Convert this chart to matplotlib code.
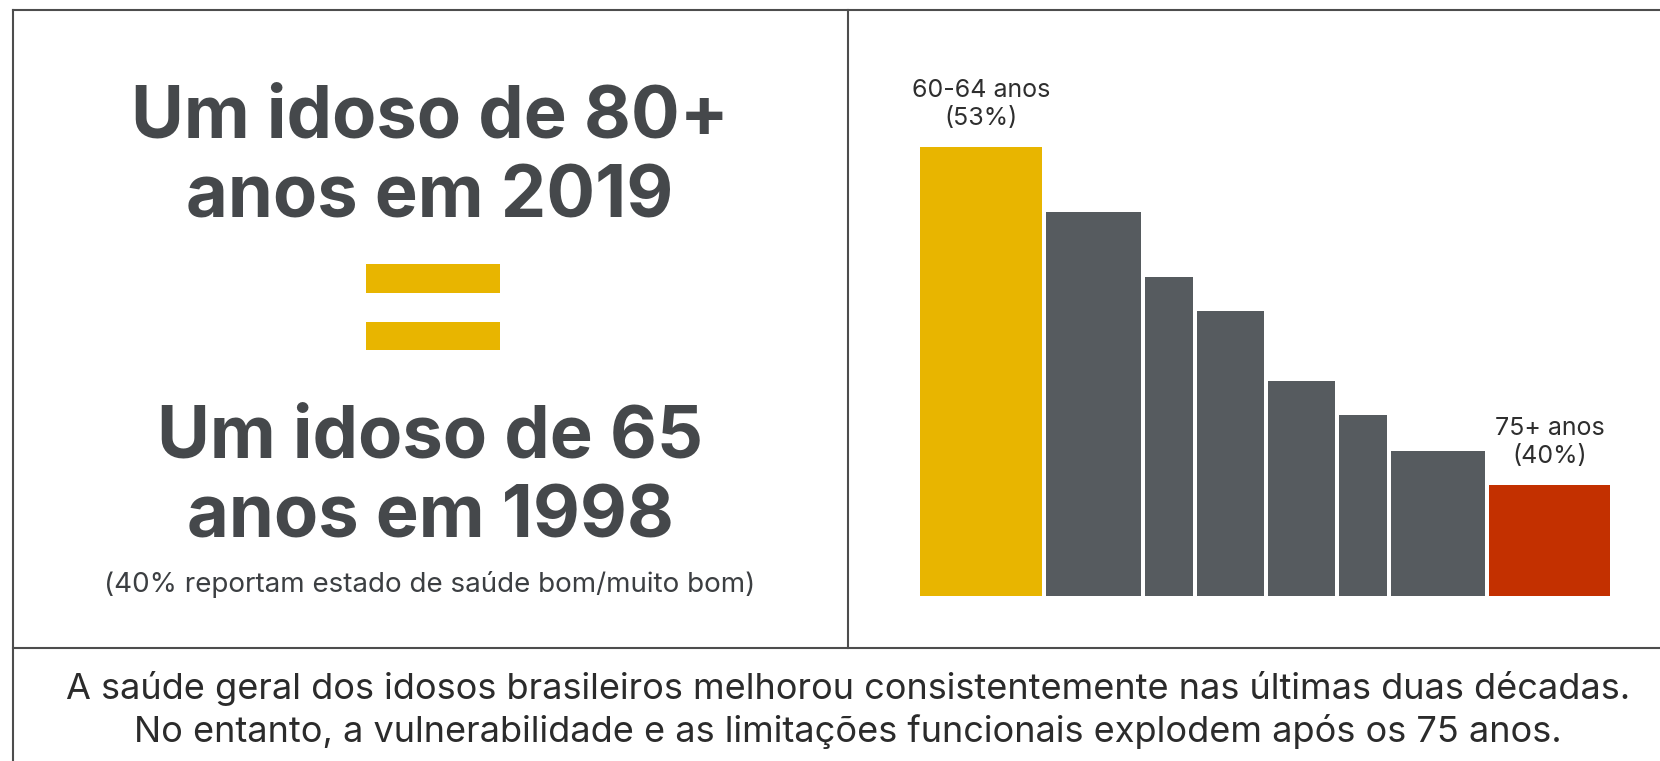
import matplotlib
matplotlib.use('Agg')
import matplotlib.pyplot as plt
from matplotlib.lines import Line2D
from matplotlib.patches import Rectangle

# data
grupos = ['60-64 anos', '', '', '', '', '', '', '75+ anos']
saude_boa = [53.0, 50.5, 48.0, 46.7, 44.0, 42.7, 41.3, 40.0]
larguras = [122, 95, 48, 67, 67, 48, 94, 121]
cores = ['#e8b500'] + ['#565b5f'] * 6 + ['#c33000']
rotulos = ['60-64 anos\n(53%)', '', '', '', '', '', '', '75+ anos\n(40%)']

titulo_linhas = ['Um idoso de 80+', 'anos em 2019', 'Um idoso de 65', 'anos em 1998']
nota = '(40% reportam estado de saúde bom/muito bom)'
legenda_linhas = ['A saúde geral dos idosos brasileiros melhorou consistentemente nas últimas duas décadas.',
                  'No entanto, a vulnerabilidade e as limitações funcionais explodem após os 75 anos.']

W, H = 1660, 761
TXT = '#45484b'
plt.rcParams['font.family'] = ['Inter', 'DejaVu Sans']

fig = plt.figure(figsize=(W / 100, H / 100), dpi=100)
fig.patch.set_facecolor('white')


def fx(px):
    return px / W


def fy(py):
    return 1 - py / H


# frame lines
for (x0, y0, x1, y1) in [(13, 10, W, 10), (13, 10, 13, H), (848, 10, 848, 648), (13, 648, W, 648)]:
    fig.add_artist(Line2D([fx(x0), fx(x1)], [fy(y0), fy(y1)], color='#4d4d4d', lw=1.5))

# left panel text
for linha, base in zip(titulo_linhas, [137, 217, 458, 537]):
    fig.text(fx(430), fy(base), linha, ha='center', va='baseline', fontsize=52,
             fontweight='bold', color=TXT)
fig.text(fx(430), fy(592), nota, ha='center', va='baseline', fontsize=20, color='#3c3f42')

# equal sign
for top, bot in ((264, 293), (322, 350)):
    fig.add_artist(Rectangle((fx(366), fy(bot)), fx(134), (bot - top) / H,
                             transform=fig.transFigure, color='#e8b500', lw=0))

# bar chart
ax = fig.add_axes([fx(920), fy(596), fx(690), (596 - 60) / H])
gap = 4
x = 0
for i in range(len(saude_boa)):
    ax.bar(x, saude_boa[i], width=larguras[i], bottom=0, align='edge', color=cores[i], lw=0)
    if rotulos[i]:
        ax.annotate(rotulos[i], (x + larguras[i] / 2, saude_boa[i]), xytext=(0, 12),
                    textcoords='offset points', ha='center', va='bottom',
                    fontsize=18, color='#2e2e2e', linespacing=1.3)
    x += larguras[i] + gap
ax.set_xlim(0, x - gap)
ax.set_ylim(35.73, 56.35)
ax.axis('off')

# caption
for linha, base in zip(legenda_linhas, [699, 742]):
    fig.text(fx(848), fy(base), linha, ha='center', va='baseline', fontsize=26, color='#2b2b2b')

fig.savefig('out.png', dpi=100)
